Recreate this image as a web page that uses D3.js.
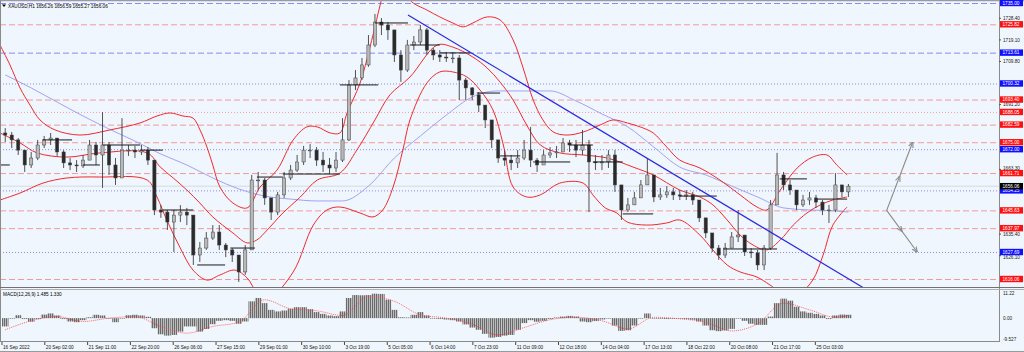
<!DOCTYPE html>
<html><head><meta charset="utf-8">
<script src="https://cdn.jsdelivr.net/npm/d3@7"></script>
<style>body{margin:0;background:#f0f6fd}svg{display:block}text{font-family:"Liberation Sans",Arial,sans-serif}</style>
</head><body><svg id="c" width="1024" height="352"></svg>
<script>
// ---------------- DATA ----------------
const symbolTitle = "XAUUSD,H1  1656.26 1656.59 1655.27 1656.06";
const macdTitle = "MACD(12,26,9) 1.485 1.330";
const firstOpen = 1679.0;
const closes = [1678.1,1676.0,1671.6,1665.2,1668.2,1673.8,1676.0,1676.8,1670.8,1666.1,
1665.2,1664.8,1667.3,1673.8,1669.5,1673.8,1665.2,1659.6,1671.6,1671.6,
1670.8,1671.6,1667.3,1645.8,1644.9,1640.6,1643.6,1644.9,1643.6,1626.4,
1629.4,1633.7,1636.3,1630.7,1628.6,1626.4,1619.1,1628.6,1658.7,1658.7,
1651.0,1644.9,1652.3,1659.6,1663.0,1666.5,1671.6,1671.6,1667.3,1665.2,
1663.9,1667.3,1676.0,1699.7,1702.7,1708.3,1716.9,1726.8,1725.5,1723.4,
1712.6,1706.1,1716.9,1718.2,1723.4,1714.7,1712.6,1711.7,1711.3,1711.3,
1701.8,1698.4,1695.4,1691.0,1684.6,1676.0,1668.2,1667.3,1666.1,1668.2,
1671.6,1667.3,1665.2,1669.5,1670.4,1670.8,1674.7,1673.8,1671.6,1673.8,
1666.5,1666.1,1666.5,1669.5,1656.6,1645.8,1648.0,1651.0,1656.6,1660.9,
1651.4,1652.3,1653.6,1652.3,1651.8,1652.3,1650.1,1642.4,1635.9,1629.4,
1626.4,1629.4,1634.2,1635.0,1627.7,1627.3,1622.1,1629.4,1648.0,1660.9,
1656.6,1654.4,1648.0,1650.1,1651.0,1649.2,1645.8,1645.8,1656.6,1653.6,
1656.06];
const highs = [1681.1,1679.4,1676.8,1671.6,1670.8,1676.0,1677.7,1679.0,1676.8,1671.6,
1668.2,1667.3,1669.5,1676.0,1675.1,1688.0,1675.1,1668.2,1685.4,1673.8,
1673.4,1673.8,1672.9,1667.3,1647.9,1645.8,1645.8,1647.9,1646.7,1643.6,
1632.0,1636.3,1639.3,1639.3,1631.6,1629.4,1626.4,1630.7,1660.9,1662.2,
1659.6,1651.0,1653.6,1662.2,1665.2,1669.5,1673.4,1674.2,1672.9,1670.8,
1668.2,1670.8,1685.4,1701.8,1706.1,1711.3,1721.2,1730.3,1728.5,1726.8,
1723.4,1714.7,1719.1,1720.8,1725.5,1724.2,1715.6,1714.7,1713.9,1713.9,
1712.6,1702.7,1698.8,1696.6,1691.0,1684.6,1676.0,1671.6,1669.5,1671.6,
1676.0,1681.6,1668.2,1671.6,1672.9,1673.4,1676.8,1676.0,1676.0,1680.3,
1676.0,1669.5,1669.5,1671.6,1671.6,1656.6,1651.0,1653.6,1658.7,1668.2,
1660.9,1655.3,1656.1,1655.3,1654.4,1654.4,1653.6,1650.1,1642.4,1635.0,
1630.7,1631.6,1636.3,1645.8,1635.0,1629.4,1628.6,1630.7,1650.1,1670.4,
1662.2,1658.7,1654.4,1652.3,1653.6,1652.3,1650.1,1648.0,1661.7,1656.6,
1657.0];
const lows = [1675.1,1672.5,1669.5,1662.2,1663.9,1667.3,1672.5,1673.8,1669.1,1663.9,
1663.0,1662.2,1663.9,1668.2,1665.2,1655.3,1660.9,1656.6,1660.9,1669.1,
1668.2,1669.5,1665.2,1643.6,1642.4,1637.2,1627.7,1640.6,1639.3,1622.1,
1623.4,1628.6,1632.9,1628.6,1625.5,1623.4,1614.8,1617.8,1628.6,1654.4,
1648.0,1641.5,1643.6,1651.0,1658.7,1662.2,1665.2,1668.2,1664.8,1662.2,
1661.3,1662.2,1666.5,1675.5,1697.5,1701.8,1707.5,1716.0,1721.2,1719.1,
1709.6,1701.0,1705.3,1714.7,1716.9,1712.6,1710.4,1709.6,1709.6,1709.1,
1693.2,1693.2,1693.2,1688.0,1681.1,1672.5,1666.1,1664.8,1663.0,1663.9,
1667.3,1664.3,1662.2,1665.2,1668.2,1668.2,1671.6,1670.8,1668.6,1669.5,
1644.9,1663.0,1663.0,1663.9,1653.6,1641.5,1644.9,1648.0,1651.0,1656.6,
1649.2,1650.1,1651.0,1650.1,1650.1,1650.1,1648.0,1640.6,1633.7,1627.7,
1624.3,1625.1,1629.4,1632.0,1626.0,1625.1,1619.9,1619.9,1628.6,1650.1,
1654.4,1652.3,1645.8,1647.1,1648.0,1646.7,1643.6,1640.2,1644.9,1651.4,
1651.4];

// Bollinger bands as [candle index, price]
const bbUpper = [[-0.81,1716.9],[0.73,1708.3],[2.28,1698.4],[3.82,1691.0],[5.36,1684.6],[7.67,1680.3],[11.53,1678.1],[16.15,1680.3],[20.78,1683.3],[23.4,1686.3],[25.4,1687.6],[27.4,1686.3],[28.95,1685.4],[30.03,1680.3],[31.1,1672.9],[32.0,1665.2],[33.1,1655.7],[35.1,1648.8],[37.3,1646.7],[39.3,1655.7],[41.9,1663.0],[44.4,1676.0],[46.5,1681.6],[48.1,1681.6],[50.1,1679.0],[51.6,1679.0],[52.7,1687.6],[54.7,1700.5],[56.7,1721.2],[57.8,1734.1],[58.9,1744.9],[60.9,1749.2],[62.4,1736.3],[65.0,1732.0],[67.0,1729.0],[69.0,1726.4],[70.6,1724.7],[72.1,1726.4],[74.3,1729.0],[76.3,1727.7],[78.3,1719.1],[79.8,1707.4],[81.4,1693.2],[82.9,1684.6],[84.5,1679.4],[86.6,1678.1],[89.1,1679.4],[91.7,1682.4],[93.7,1684.6],[95.9,1683.3],[97.9,1681.6],[99.9,1679.0],[102.0,1672.9],[104.0,1667.3],[107.1,1663.9],[110.2,1658.7],[113.3,1652.3],[115.9,1647.1],[117.4,1645.8],[119.5,1654.4],[122.1,1663.9],[124.5,1668.6],[126.7,1669.5],[128.2,1665.2],[129.8,1660.9]];
const bbMiddle = [[-0.81,1679.0],[2.28,1674.7],[4.9,1670.4],[9.52,1668.6],[14.6,1670.4],[21.9,1670.4],[23.9,1664.3],[25.9,1659.6],[28.0,1654.4],[30.0,1648.8],[32.0,1642.8],[35.1,1635.9],[37.3,1631.6],[38.8,1632.9],[40.4,1637.2],[42.8,1644.5],[45.5,1651.4],[48.1,1658.7],[51.6,1661.7],[54.2,1671.6],[57.0,1684.6],[59.3,1695.4],[62.4,1703.1],[66.6,1716.9],[69.0,1716.0],[72.1,1711.7],[74.3,1707.0],[76.3,1700.9],[78.3,1693.2],[80.4,1682.4],[82.5,1673.8],[85.5,1670.4],[89.1,1669.5],[92.8,1668.2],[96.8,1664.3],[99.9,1660.9],[104.0,1654.4],[107.1,1651.4],[109.1,1648.0],[111.3,1641.5],[113.3,1635.0],[115.3,1630.7],[117.4,1628.6],[119.5,1632.9],[121.5,1639.3],[123.6,1644.5],[125.6,1647.9],[127.6,1650.1],[129.8,1651.4]];
const bbLower = [[-0.81,1650.1],[2.28,1653.1],[5.82,1657.4],[9.52,1659.6],[14.6,1660.0],[21.9,1658.7],[23.4,1651.4],[24.9,1641.5],[26.9,1629.9],[28.95,1619.9],[31.1,1615.6],[33.1,1617.8],[35.4,1619.9],[37.3,1616.5],[38.8,1610.5],[40.8,1608.3],[44.4,1619.1],[47.5,1639.3],[49.6,1645.8],[51.6,1647.1],[54.7,1644.5],[56.7,1642.8],[58.2,1645.8],[59.8,1655.7],[61.3,1671.6],[62.4,1684.6],[65.0,1700.5],[67.0,1705.3],[69.0,1705.3],[71.2,1703.1],[73.2,1697.5],[75.2,1688.9],[76.8,1673.8],[78.3,1655.7],[80.4,1651.4],[82.5,1652.3],[85.5,1657.4],[89.1,1657.4],[90.6,1652.3],[92.5,1646.7],[94.3,1644.5],[95.9,1640.6],[98.9,1639.3],[102.0,1640.2],[104.0,1641.5],[107.1,1635.0],[109.1,1628.6],[111.3,1622.1],[113.3,1619.1],[115.9,1616.9],[117.9,1613.5],[120.2,1609.2],[122.5,1610.0],[124.5,1615.6],[126.1,1626.4],[127.6,1639.3],[129.8,1647.1]];
// slow moving average sampled every 4 candles
const maT = [0,4,8,12,16,20,24,28,32,36,40,44,48,52,56,60,64,68,72,76,80,84,88,92,96,100,104,108,112,116,120,124,128,130];
const maSlow = [1704.0,1698.4,1692.3,1686.3,1680.7,1675.5,1669.9,1665.2,1659.6,1654.9,1651.8,1650.5,1649.7,1649.7,1656.1,1668.2,1677.7,1686.7,1694.5,1697.1,1697.1,1697.1,1692.8,1687.2,1681.6,1672.9,1664.3,1660.9,1656.1,1651.4,1646.7,1645.8,1645.4,1644.9];

const macdHist = [-3.7,0,1.3,-0.4,-1.6,-0.4,1.6,2.1,1.2,-0.4,-1.5,-1.8,-0.9,0.4,1.5,1.2,0.1,-1.8,0,1.3,
1.5,1.2,0.6,-4.5,-7.2,-7.8,-7.5,-6.0,-3.7,-3.7,-6.0,-4.8,-2.7,-1.2,-0.9,-1.2,-2.5,-1.5,7.5,9.0,
6.7,3.7,3.0,3.4,4.2,4.9,4.9,4.0,2.7,1.9,1.2,0.9,3.0,9.0,10.3,10.2,10.3,10.9,10.8,8.2,
3.7,0.4,0.3,1.5,2.7,1.2,-0.1,-0.4,-0.6,-0.9,-1.5,-2.8,-4.2,-5.2,-7.0,-8.7,-8.4,-7.8,-7.5,-5.2,
-2.2,-0.9,-1.6,-1.2,-0.4,0.3,0.7,1.0,0.7,-1.5,-1.8,-1.3,-0.6,0,-3.3,-5.7,-5.4,-3.3,0,2.1,
0,-0.3,-0.4,-0.3,-0.3,-0.4,-0.7,-1.5,-3.3,-5.4,-5.8,-5.5,-4.8,0,-1.2,-2.5,-3.0,-3.0,0.7,6.7,
8.7,7.8,5.1,3.0,2.4,1.9,1.2,-0.4,1.2,1.6,1.5];
const macdSignal = [-5.2,-1.2,0.7,-1.5,0.0,0.7,-3.7,-6.7,-3.7,-1.8,8.2,4.2,3.3,1.2,9.7,7.5,1.5,0,-2.7,-7.5,-4.2,-0.7,0.4,-1.2,-4.8,0.4,-0.3,-1.8,-5.7,-2.5,6.7,3.7,0.4,1.2];

// horizontal price levels
const levelPrices = [1735.00,1725.82,1713.61,1700.32,1693.40,1688.05,1682.59,1675.00,1672.00,1661.71,1654.25,1645.63,1637.97,1627.69,1616.06];
const levelColors = ["blue","red","blue","blue","red","red","red","red","blue","red","blue","red","red","blue","red"];
const levelStyles = ["dash","dash","dash","dot","dash","dot","dash","dash","dot","dash","dot","dash","dash","dot","dash"];
const bidPrice = 1656.06;
const priceTicks = ["1728.40","1719.10","1709.80","1691.20","1663.30","1635.40","1626.10"];
const macdTicks = ["11.22","0.00","-9.527"];

// short black session lines: [start candle, end candle, price]
const sessionLines = [[-0.8,0.7,1665.2],[5.8,10.3,1676.0],[12.0,14.6,1665.2],[15.1,20.8,1673.8],[20.8,24.3,1671.6],[24.3,29.0,1645.8],[29.6,33.9,1622.1],[34.7,38.5,1629.4],[38.8,42.8,1660.0],[42.8,51.6,1661.3],[51.6,57.5,1699.7],[57.0,62.1,1726.4],[62.4,67.0,1716.9],[67.0,71.7,1713.5],[72.7,76.3,1696.2],[76.3,79.4,1669.1],[81.4,87.1,1666.5],[87.1,90.6,1673.8],[90.6,95.2,1666.5],[95.2,99.9,1644.1],[104.0,109.7,1651.8],[110.7,119.0,1629.0],[119.4,123.6,1659.2],[125.2,129.8,1650.5]];
const trendLine = [[62.1,1729.8],[132.9,1611.3]];
const arrowFrom = [135.9,1645.63];
const arrowTargets = [[139.9,1675.00],[140.6,1627.69]];

const dateLabels = ["16 Sep 2022","20 Sep 02:00","21 Sep 11:00","22 Sep 20:00","26 Sep 06:00","27 Sep 15:00","29 Sep 01:00","30 Sep 10:00","3 Oct 19:00","5 Oct 05:00","6 Oct 14:00","7 Oct 23:00","11 Oct 09:00","12 Oct 18:00","14 Oct 04:00","17 Oct 13:00","18 Oct 22:00","20 Oct 08:00","21 Oct 17:00","25 Oct 03:00"];
const dateHours = [0,33,66,99,132,165,198,231,264,297,330,363,396,429,462,495,528,561,594,627];

// ---------------- LAYOUT ----------------
const svg = d3.select("#c");
const plotR = 999, mainBot = 287, macdTop = 290, macdBot = 341;
const x = d3.scaleLinear().domain([0,150]).range([5.24, 5.24+6.486*150]);
const y = d3.scaleLinear().domain([1735,1616.06]).range([3,279]);
const ym = d3.scaleLinear().domain([11.22,-9.527]).range([293,339.5]);
const FS = 4.7, BH = 3.2;

svg.append("rect").attr("width",1024).attr("height",352).attr("fill","#f0f6fd");
const defs = svg.append("defs");
defs.append("clipPath").attr("id","cm").append("rect").attr("x",0).attr("y",1).attr("width",plotR).attr("height",mainBot-1);
defs.append("clipPath").attr("id","cd").append("rect").attr("x",0).attr("y",macdTop).attr("width",plotR).attr("height",macdBot-macdTop);
const pat = defs.append("pattern").attr("id","hp").attr("patternUnits","userSpaceOnUse").attr("width",2).attr("height",4);
pat.append("rect").attr("width",1.2).attr("height",4).attr("fill","#6a6a6a");
pat.append("rect").attr("x",1.2).attr("width",0.8).attr("height",4).attr("fill","#b4b4b4");
const mk = defs.append("marker").attr("id","ah").attr("viewBox","0 0 10 10").attr("refX",9).attr("refY",5)
  .attr("markerUnits","userSpaceOnUse").attr("markerWidth",6).attr("markerHeight",6).attr("orient","auto");
mk.append("path").attr("d","M0,1L10,5L0,9").attr("fill","none").attr("stroke","#8a8a8a").attr("stroke-width",1.8);

const main = svg.append("g").attr("clip-path","url(#cm)");

// levels
const lvlCol = {red:"#f29a9a", blue:"#8a8af0"};
main.selectAll("line.lvl").data(levelPrices).join("line").attr("class","lvl")
  .attr("x1",0).attr("x2",plotR).attr("y1",d=>y(d)+0.5).attr("y2",d=>y(d)+0.5)
  .attr("stroke",(d,i)=> levelStyles[i]==="dot" && levelColors[i]==="red" ? "#f4a0a8" : lvlCol[levelColors[i]])
  .attr("stroke-width",1)
  .attr("stroke-dasharray",(d,i)=>levelStyles[i]==="dash"?"6,3":"1,2");
main.append("line").attr("x1",0).attr("x2",plotR).attr("y1",y(bidPrice)).attr("y2",y(bidPrice))
  .attr("stroke","#dde3ea").attr("stroke-width",1.5);

// MA
const maLine = d3.line().x((d,i)=>x(maT[i])).y(d=>y(d)).curve(d3.curveMonotoneX);
main.append("path").attr("d",maLine(maSlow)).attr("fill","none").attr("stroke","#a2a2f4").attr("stroke-width",1);
// Bollinger
const pairLine = d3.line().x(d=>x(d[0])).y(d=>y(d[1])).curve(d3.curveCatmullRom.alpha(0.5));
[bbUpper,bbMiddle,bbLower].forEach(arr=>{
  main.append("path").attr("d",pairLine(arr)).attr("fill","none").attr("stroke","#f02a2a").attr("stroke-width",1);
});

// candles
const candles = closes.map((c,i)=>{const o = i?closes[i-1]:firstOpen; return {i,o,c,h:Math.max(highs[i],o,c),l:Math.min(lows[i],o,c)};});
main.selectAll("line.wick").data(candles).join("line").attr("class","wick")
  .attr("x1",d=>x(d.i)).attr("x2",d=>x(d.i)).attr("y1",d=>y(d.h)).attr("y2",d=>y(d.l))
  .attr("stroke","#404040").attr("stroke-width",0.9);
main.selectAll("rect.body").data(candles).join("rect").attr("class","body")
  .attr("x",d=>x(d.i)-1.6).attr("width",3.2)
  .attr("y",d=>y(Math.max(d.o,d.c))).attr("height",d=>Math.max(0.8,Math.abs(y(d.o)-y(d.c))))
  .attr("fill",d=>d.c>=d.o?"#b8b8b8":"#2a2a2a").attr("stroke","#404040").attr("stroke-width",0.5);

// session lines
main.selectAll("line.sess").data(sessionLines).join("line").attr("class","sess")
  .attr("x1",d=>x(d[0])).attr("x2",d=>x(d[1])).attr("y1",d=>y(d[2])).attr("y2",d=>y(d[2]))
  .attr("stroke","#1a1a1a").attr("stroke-width",1);

// trend line
main.append("line").attr("x1",x(trendLine[0][0])).attr("y1",y(trendLine[0][1]))
  .attr("x2",x(trendLine[1][0])).attr("y2",y(trendLine[1][1])).attr("stroke","#2828e0").attr("stroke-width",1.2);

// arrows (with a mid-way chevron like the reference)
arrowTargets.forEach(t=>{
  const x0=x(arrowFrom[0]), y0=y(arrowFrom[1]), x1=x(t[0]), y1=y(t[1]);
  main.append("line").attr("x1",x0).attr("y1",y0).attr("x2",x1).attr("y2",y1)
    .attr("stroke","#8a8a8a").attr("stroke-width",1.1).attr("marker-end","url(#ah)");
  main.append("line").attr("x1",x0).attr("y1",y0).attr("x2",(x0+x1)/2).attr("y2",(y0+y1)/2)
    .attr("stroke","none").attr("marker-end","url(#ah)");
});

// header
svg.append("path").attr("d","M2,4.5L6,4.5L4,7Z").attr("fill","#000");
svg.append("text").attr("x",8).attr("y",8).attr("font-size",FS).attr("fill","#000").text(symbolTitle);

// frames
svg.append("line").attr("x1",0).attr("x2",1024).attr("y1",0.5).attr("y2",0.5).attr("stroke","#9a9aa6").attr("stroke-width",1.5);
svg.append("line").attr("x1",plotR+0.5).attr("x2",plotR+0.5).attr("y1",0).attr("y2",macdBot+1).attr("stroke","#8a8a8a");
svg.append("line").attr("x1",0.5).attr("x2",0.5).attr("y1",0).attr("y2",macdBot+1).attr("stroke","#8a8a8a");
svg.append("line").attr("x1",0).attr("x2",1024).attr("y1",mainBot+0.5).attr("y2",mainBot+0.5).attr("stroke","#707070");
svg.append("line").attr("x1",0).attr("x2",1024).attr("y1",macdTop-0.5).attr("y2",macdTop-0.5).attr("stroke","#b0b0b0");
svg.append("line").attr("x1",0).attr("x2",plotR+1).attr("y1",macdBot+0.5).attr("y2",macdBot+0.5).attr("stroke","#8a8a8a");
svg.append("line").attr("x1",0).attr("x2",1024).attr("y1",351.5).attr("y2",351.5).attr("stroke","#9a9a9a");

// price axis ticks (labels kept clear of the level boxes)
const ax = svg.append("g");
const boxYs = levelPrices.map(p=>y(p)).concat([y(bidPrice)]);
function tickBaseline(v){
  let yy = y(v), base = yy + 1.7;
  boxYs.forEach(b=>{
    const top = base - 3.4, bot = base;
    if (bot > b - BH && top < b + BH) { base = (yy < b) ? b - BH - 0.3 : b + BH + 3.7; }
  });
  return base;
}
ax.selectAll("line.tk").data(priceTicks).join("line").attr("class","tk")
  .attr("x1",plotR).attr("x2",plotR+2).attr("y1",d=>y(+d)).attr("y2",d=>y(+d)).attr("stroke","#555");
ax.selectAll("text.tk").data(priceTicks).join("text").attr("class","tk")
  .attr("x",plotR+4).attr("y",d=>tickBaseline(+d)).attr("font-size",FS).attr("fill","#222").text(d=>d);
const boxCol = {red:"#ff1010", blue:"#1010ff"};
const lbl = ax.selectAll("g.lb").data(levelPrices).join("g").attr("class","lb");
lbl.append("rect").attr("x",plotR+1).attr("y",d=>y(d)-BH).attr("width",23).attr("height",2*BH).attr("fill",(d,i)=>boxCol[levelColors[i]]);
lbl.append("text").attr("x",plotR+3.5).attr("y",d=>y(d)+1.7).attr("font-size",FS).attr("fill","#fff").text(d=>d.toFixed(2));
ax.append("rect").attr("x",plotR+1).attr("y",y(bidPrice)-BH).attr("width",23).attr("height",2*BH).attr("fill","#000");
ax.append("text").attr("x",plotR+3.5).attr("y",y(bidPrice)+1.7).attr("font-size",FS).attr("fill","#fff").text(bidPrice.toFixed(2));

// MACD panel
const md = svg.append("g").attr("clip-path","url(#cd)");
md.selectAll("rect.h").data(macdHist).join("rect").attr("class","h")
  .attr("x",(d,i)=>x(i)-3.243).attr("width",6.486)
  .attr("y",d=>Math.min(ym(d),ym(0))).attr("height",d=>Math.max(0.6,Math.abs(ym(d)-ym(0))))
  .attr("fill","url(#hp)");
md.append("path").attr("d",d3.line().x((d,i)=>x(maT[i])).y(d=>ym(d)).curve(d3.curveMonotoneX)(macdSignal))
  .attr("fill","none").attr("stroke","#ff4040").attr("stroke-width",0.8).attr("stroke-dasharray","1,1");
svg.append("text").attr("x",3).attr("y",296).attr("font-size",FS).attr("fill","#000").text(macdTitle);
svg.selectAll("text.mt").data(macdTicks).join("text").attr("class","mt")
  .attr("x",plotR+4).attr("y",d=>ym(+d)+1.7).attr("font-size",FS).attr("fill","#222").text(d=>d);

// dates
const dg = svg.append("g");
dg.selectAll("line").data(dateHours).join("line")
  .attr("x1",d=>x(d/5-0.5)).attr("x2",d=>x(d/5-0.5)).attr("y1",macdBot+1).attr("y2",macdBot+4).attr("stroke","#444");
dg.selectAll("text").data(dateLabels).join("text")
  .attr("x",(d,i)=>x(dateHours[i]/5-0.5)+1).attr("y",348.5).attr("font-size",FS).attr("fill","#111").text(d=>d);
</script></body></html>
